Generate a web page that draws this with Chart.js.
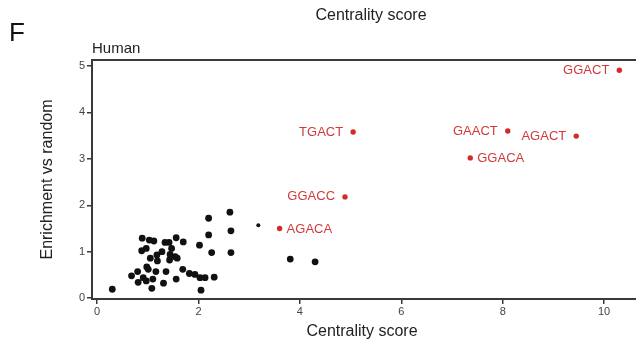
<!DOCTYPE html>
<html>
<head>
<meta charset="utf-8">
<script src="https://cdn.jsdelivr.net/npm/chart.js@4.4.1/dist/chart.umd.min.js"></script>
<style>
html,body{margin:0;padding:0;background:#fff;}
#wrap{width:636px;height:341px;position:relative;}
</style>
</head>
<body>
<div id="wrap"><canvas id="c" width="636" height="341"></canvas></div>
<script>
// Background (black) motifs: centrality score, enrichment vs random
const bgX = [0.30,0.68,0.80,0.81,0.91,0.97,0.89,0.88,0.97,0.98,1.01,1.03,1.05,1.08,1.10,1.12,1.16,1.19,1.18,1.28,1.31,1.36,1.34,1.42,1.44,1.43,1.47,1.54,1.58,1.56,1.56,1.69,1.70,1.82,1.93,2.02,2.03,2.13,2.05,2.20,2.20,2.26,2.31,2.62,2.64,2.64,3.81,4.30];
const bgY = [0.19,0.48,0.57,0.34,0.44,0.37,1.29,1.02,1.07,0.67,0.62,1.25,0.86,0.21,0.41,1.23,0.57,0.80,0.93,1.00,0.32,0.57,1.20,1.20,0.94,0.82,1.07,0.89,0.86,0.41,1.30,0.62,1.21,0.53,0.51,1.14,0.44,0.44,0.17,1.72,1.36,0.98,0.45,1.85,1.45,0.98,0.84,0.78];
// small isolated point
const smallX = [3.18];
const smallY = [1.57];
// Highlighted (red) motifs
const motifNames = ["GGACT","TGACT","GAACT","AGACT","GGACA","GGACC","AGACA"];
const motifX = [10.30,5.05,8.10,9.45,7.36,4.89,3.60];
const motifY = [4.91,3.58,3.60,3.49,3.02,2.18,1.50];
const motifLabelSide = ["left","left","left","left","right","left","right"];
const xTicks = [0,2,4,6,8,10];
const yTicks = [0,1,2,3,4,5];

const toPts = (xs, ys) => xs.map((x,i)=>({x:x, y:ys[i]}));
const FONT = "'Liberation Sans', Arial, sans-serif";
const AXIS_COLOR = '#3a3a3a';

const decor = {
  id:'decor',
  afterDraw(chart){
    const ctx = chart.ctx, a = chart.chartArea;
    const xs = chart.scales.x;
    ctx.save();
    // top border and right extension of the bottom axis
    ctx.strokeStyle = AXIS_COLOR; ctx.lineWidth = 2;
    ctx.beginPath(); ctx.moveTo(a.left-1, a.top); ctx.lineTo(chart.width, a.top); ctx.stroke();
    const by = Math.round(xs.top);
    ctx.beginPath(); ctx.moveTo(a.right-2, by); ctx.lineTo(chart.width, by); ctx.stroke();
    ctx.fillStyle = '#111';
    ctx.textBaseline = 'alphabetic';
    ctx.font = '26px ' + FONT; ctx.textAlign = 'left';
    ctx.fillText('F', 9, 41);
    ctx.font = '16px ' + FONT; ctx.textAlign = 'center';
    ctx.fillStyle = '#222';
    ctx.fillText('Centrality score', 371, 20);
    ctx.font = '15px ' + FONT; ctx.textAlign = 'left';
    ctx.fillText('Human', 92, 53);
    // red labels
    const meta = chart.getDatasetMeta(2);
    ctx.font = '13px ' + FONT;
    ctx.fillStyle = '#d03a3a';
    ctx.textBaseline = 'middle';
    meta.data.forEach((p,i)=>{
      if (motifLabelSide[i] === 'left') { ctx.textAlign='right'; ctx.fillText(motifNames[i], p.x-10, p.y); }
      else { ctx.textAlign='left'; ctx.fillText(motifNames[i], p.x+7, p.y+1); }
    });
    ctx.restore();
  }
};

new Chart(document.getElementById('c'), {
  type:'scatter',
  data:{datasets:[
    {data:toPts(bgX,bgY), backgroundColor:'#111', borderColor:'#111', pointRadius:3.4, borderWidth:0},
    {data:toPts(smallX,smallY), backgroundColor:'#111', borderColor:'#111', pointRadius:2, borderWidth:0},
    {data:toPts(motifX,motifY), backgroundColor:'#d42a2a', borderColor:'#d42a2a', pointRadius:2.7, borderWidth:0}
  ]},
  options:{
    responsive:false, animation:false, devicePixelRatio:1,
    layout:{padding:{top:60,right:0,left:0,bottom:0}},
    plugins:{legend:{display:false}, tooltip:{enabled:false}},
    scales:{
      x:{type:'linear', min:-0.1, max:10.55,
        afterBuildTicks(s){ s.ticks = xTicks.map(v=>({value:v})); },
        afterFit(s){ s.height = 42; },
        border:{display:true, color:AXIS_COLOR, width:2},
        grid:{display:true, drawOnChartArea:false, drawTicks:true, tickLength:5, color:AXIS_COLOR, lineWidth:1.5},
        ticks:{color:'#444', font:{family:FONT, size:11}, padding:1, maxRotation:0},
        title:{display:true, text:'Centrality score', color:'#222', font:{family:FONT, size:16}, padding:{top:0,bottom:0}}
      },
      y:{type:'linear', min:-0.02, max:5.13,
        afterBuildTicks(s){ s.ticks = yTicks.map(v=>({value:v})); },
        afterFit(s){ s.width = 92; },
        border:{display:true, color:AXIS_COLOR, width:2},
        grid:{display:true, drawOnChartArea:false, drawTicks:true, tickLength:5, color:AXIS_COLOR, lineWidth:1.5},
        ticks:{color:'#444', font:{family:FONT, size:11}, padding:2},
        title:{display:true, text:'Enrichment vs random', color:'#222', font:{family:FONT, size:16}, padding:{top:38,bottom:0}}
      }
    }
  },
  plugins:[decor]
});
</script>
</body>
</html>
